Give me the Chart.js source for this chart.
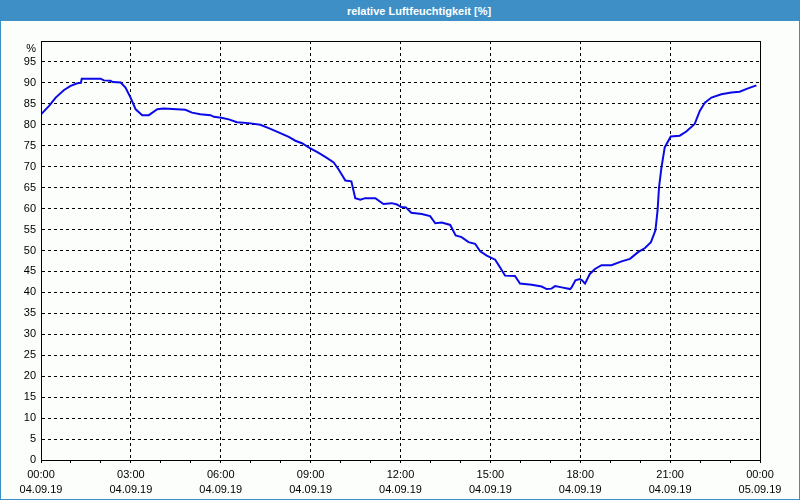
<!DOCTYPE html>
<html>
<head>
<meta charset="utf-8">
<script src="https://cdn.jsdelivr.net/npm/chart.js@4.4.0/dist/chart.umd.min.js"></script>
<style>
  html, body { margin: 0; padding: 0; background: #fff; }
  #frame {
    position: relative; width: 800px; height: 500px; box-sizing: border-box;
    border: 1px solid #3c8fc6; background: #fcfefc; overflow: hidden;
  }
  #head {
    position: absolute; left: 0; top: 0; width: 798px; height: 20px;
    background: #3d8fc6; color: #fff; font: bold 11px "Liberation Sans", Arial, sans-serif;
    line-height: 20px; text-align: center; box-sizing: border-box; padding-left: 38px;
  }
  #box { position: absolute; left: -1px; top: 19px; width: 800px; height: 480px; }
</style>
</head>
<body>
<div id="frame">
  <div id="head">relative Luftfeuchtigkeit [%]</div>
  <div id="box"><canvas id="humidity"></canvas></div>
</div>
<script>
// Stunden seit 04.09.19 00:00
var hours = [
  0, 0.27, 0.49, 0.77, 0.99, 1.21, 1.33, 1.36, 1.99, 2.1, 2.32, 2.4, 2.66, 2.82,
  2.99, 3.16, 3.38, 3.6, 3.88, 4.1, 4.82, 5.04, 5.32, 5.66, 5.77, 6.02, 6.27,
  6.54, 6.93, 7.32, 7.6, 7.93, 8.27, 8.49, 8.71, 8.99, 9.27, 9.54, 9.77, 9.93,
  10.16, 10.36, 10.49, 10.66, 10.82, 11.16, 11.43, 11.71, 11.88, 12.02, 12.18,
  12.36, 12.71, 12.99, 13.16, 13.38, 13.66, 13.84, 14.04, 14.27, 14.49, 14.66,
  14.88, 15.16, 15.32, 15.49, 15.82, 15.99, 16.38, 16.71, 16.88, 17.04, 17.16,
  17.38, 17.66, 17.71, 17.84, 17.98, 18.06, 18.16, 18.32, 18.49, 18.71, 19.04,
  19.38, 19.66, 19.93, 20.16, 20.36, 20.51, 20.58, 20.63, 20.71, 20.82, 21.02,
  21.32, 21.54, 21.82, 21.99, 22.16, 22.38, 22.71, 23.04, 23.32, 23.6, 23.88,
];
var humidity = [
  82.5, 84.5, 86.5, 88.3, 89.3, 89.9, 90.0, 91.0, 91.0, 90.6, 90.5, 90.2, 90.1,
  88.9, 86.5, 83.7, 82.3, 82.3, 83.7, 83.9, 83.6, 82.9, 82.5, 82.3, 81.9, 81.7,
  81.3, 80.6, 80.4, 80.0, 79.2, 78.2, 77.1, 76.2, 75.6, 74.4, 73.3, 72.1, 71.0,
  69.4, 66.7, 66.5, 62.5, 62.1, 62.5, 62.5, 61.1, 61.3, 61.0, 60.4, 60.3, 59.0,
  58.7, 58.2, 56.5, 56.7, 56.1, 53.6, 53.2, 52.0, 51.6, 49.8, 48.8, 47.8, 46.0,
  44.0, 43.9, 42.1, 41.8, 41.4, 40.8, 40.9, 41.5, 41.2, 40.8, 41.2, 42.9, 43.2,
  42.9, 42.1, 44.4, 45.6, 46.5, 46.5, 47.4, 48.0, 49.6, 50.6, 52.0, 54.8, 59.5,
  65.1, 69.8, 74.6, 77.2, 77.4, 78.4, 80.2, 83.3, 85.3, 86.5, 87.3, 87.7, 87.9,
  88.7, 89.4,
];
var timeLabels = ["00:00", "03:00", "06:00", "09:00", "12:00", "15:00", "18:00", "21:00", "00:00"];
var dateLabels = ["04.09.19", "04.09.19", "04.09.19", "04.09.19", "04.09.19", "04.09.19", "04.09.19", "04.09.19", "05.09.19"];

var points = hours.map(function (h, i) {
  return { x: h, y: humidity[i] };
});

// schwarzer Rahmen um die Zeichenfläche
var plotFrame = {
  id: "plotFrame",
  afterDraw: function (chart) {
    var a = chart.chartArea;
    var c = chart.ctx;
    c.save();
    c.strokeStyle = "#000";
    c.lineWidth = 1;
    c.strokeRect(Math.round(a.left) + 0.5, Math.round(a.top) + 0.5,
      Math.round(a.right - a.left), Math.round(a.bottom - a.top));
    c.restore();
  },
};

var font = { family: "'Liberation Sans', Arial, sans-serif", size: 11, lineHeight: 1.4 };

var ctx = document.getElementById("humidity").getContext("2d");
var myChart = new Chart(ctx, {
  type: "line",
  data: {
    datasets: [
      {
        label: "relative Luftfeuchtigkeit",
        data: points,
        borderColor: "#0a0ae6",
        borderWidth: 2,
        pointRadius: 0,
        fill: false,
        tension: 0,
      },
    ],
  },
  options: {
    responsive: true,
    maintainAspectRatio: false,
    animation: false,
    layout: { padding: { top: 21, right: 40, left: 0, bottom: 0 } },
    plugins: { legend: { display: false }, tooltip: { enabled: false } },
    scales: {
      x: {
        type: "linear",
        min: 0,
        max: 24,
        afterFit: function (s) { s.height = 40; },
        ticks: {
          stepSize: 1,
          autoSkip: false,
          maxRotation: 0,
          padding: 4,
          color: "#000",
          font: font,
          callback: function (v) {
            if (v % 3 !== 0) return "";
            return [timeLabels[v / 3], dateLabels[v / 3]];
          },
        },
        grid: {
          color: function (c) {
            return c.tick && c.tick.value % 3 === 0 ? "#000" : "rgba(0,0,0,0)";
          },
          tickColor: "#000",
          tickLength: 3,
        },
        border: { color: "#000", dash: [3, 3] },
      },
      y: {
        min: 0,
        max: 100,
        afterFit: function (s) { s.width = 41; },
        ticks: {
          stepSize: 5,
          autoSkip: false,
          padding: 5,
          color: "#000",
          font: font,
          callback: function (v) {
            // Einheit sitzt etwas unter der oberen Rahmenlinie
            return v === 100 ? ["", "%"] : v;
          },
        },
        grid: { color: "#000", drawTicks: false },
        border: { color: "#000", dash: [3, 3] },
      },
    },
  },
  plugins: [plotFrame],
});
</script>
</body>
</html>
